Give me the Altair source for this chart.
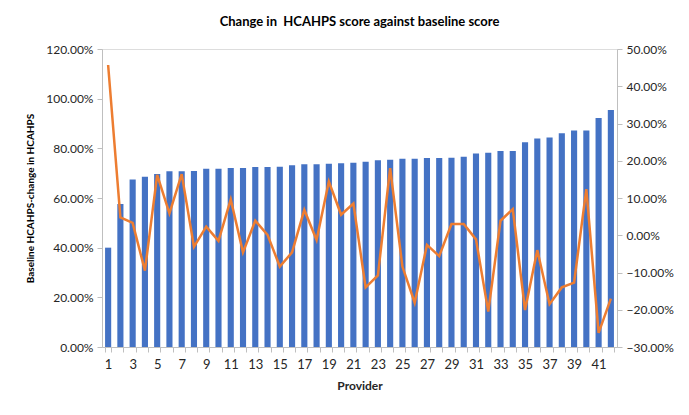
import altair as alt
import pandas as pd

providers = list(range(1, 43))
baseline = [0.40, 0.576, 0.674, 0.686, 0.697, 0.708, 0.708, 0.709, 0.718, 0.718,
            0.721, 0.721, 0.725, 0.725, 0.726, 0.732, 0.736, 0.736, 0.738, 0.740,
            0.742, 0.746, 0.752, 0.754, 0.758, 0.758, 0.761, 0.761, 0.762, 0.766,
            0.779, 0.782, 0.789, 0.789, 0.824, 0.840, 0.844, 0.861, 0.872, 0.872,
            0.922, 0.954]
change = [0.457, 0.048, 0.033, -0.095, 0.162, 0.059, 0.164, -0.031, 0.023, -0.015,
          0.096, -0.046, 0.039, 0.001, -0.084, -0.046, 0.068, -0.013, 0.144, 0.055,
          0.085, -0.140, -0.108, 0.180, -0.084, -0.181, -0.026, -0.056, 0.030, 0.030,
          -0.011, -0.205, 0.039, 0.070, -0.201, -0.040, -0.185, -0.140, -0.127, 0.124,
          -0.262, -0.170]

df = pd.DataFrame({"Provider": providers, "Baseline": baseline, "Change": change})

FONT = "Lato"
GRAY = "#bfbfbf"
TXT = "#262626"

x = alt.X("Provider:O", sort=None,
          scale=alt.Scale(paddingInner=0.5, paddingOuter=0.25),
          axis=alt.Axis(title="Provider", labelAngle=0, tickBand="extent",
                        labelExpr="datum.value % 2 == 1 ? datum.label : ''",
                        domainColor=GRAY, tickColor=GRAY, tickSize=5,
                        labelFontSize=13, labelColor=TXT, labelPadding=6,
                        titleFontSize=12, titleFontWeight="bold", titleColor=TXT,
                        titlePadding=9, labelFont=FONT, titleFont=FONT))

bars = alt.Chart(df).mark_bar(color="#4472C4").encode(
    x=x,
    y=alt.Y("Baseline:Q",
            scale=alt.Scale(domain=[0, 1.2], nice=False),
            axis=alt.Axis(title="Baseline HCAHPS-change in HCAHPS", format=".2%",
                          values=[0, 0.2, 0.4, 0.6, 0.8, 1.0, 1.2], grid=False,
                          domainColor=GRAY, tickColor=GRAY, tickSize=5,
                          labelFontSize=12, labelColor=TXT, labelPadding=4,
                          titleFontSize=10, titleFontWeight="bold", titleColor="#000000",
                          titlePadding=10, labelFont=FONT, titleFont=FONT))
)

line = alt.Chart(df).mark_line(color="#ED7D31", strokeWidth=2.5).encode(
    x=x,
    y=alt.Y("Change:Q",
            scale=alt.Scale(domain=[-0.3, 0.5], nice=False),
            axis=alt.Axis(title=None, format=".2%", orient="right",
                          values=[-0.3, -0.2, -0.1, 0, 0.1, 0.2, 0.3, 0.4, 0.5], grid=False,
                          domainColor=GRAY, tickColor=GRAY, tickSize=5,
                          labelFontSize=12, labelColor=TXT, labelPadding=4,
                          labelFont=FONT))
)

chart = alt.layer(bars, line).resolve_scale(y="independent").properties(
    width=515, height=298,
    title=alt.TitleParams("Change in\u00a0 HCAHPS score against baseline score",
                          fontSize=13, fontWeight="bold", font=FONT, color="#000000",
                          anchor="middle", offset=14),
    autosize=alt.AutoSizeParams(type="none"),
    padding={"left": 94, "top": 41, "right": 64, "bottom": 60},
).configure_view(stroke=None).configure(background="white")

chart.save("out.html", embed_options={"renderer": "svg", "actions": False})
